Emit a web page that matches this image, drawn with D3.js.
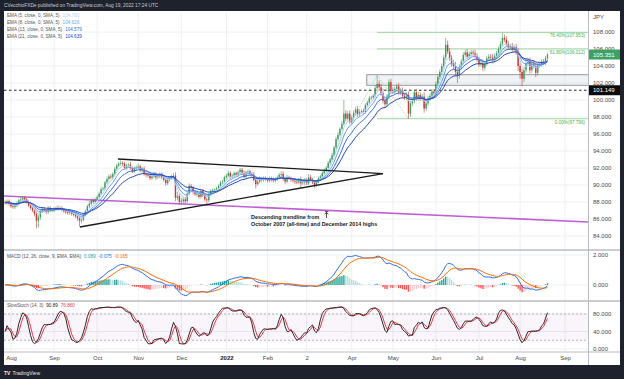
<!DOCTYPE html>
<html>
<head>
<meta charset="utf-8">
<script src="https://cdn.jsdelivr.net/npm/d3@7"></script>
<style>
  body { margin: 0; background: #1e222d; }
  svg { display: block; font-family: "Liberation Sans", Arial, sans-serif; }
</style>
</head>
<body>
<svg id="chart" width="624" height="379"></svg>
<script>
// CAD/JPY daily bars, Jul 28 2021 - Aug 19 2022
const startDate = new Date(2021, 6, 28);
const firstOpen = 88.0;
const closes = [
  87.9, 88.1, 87.8,
  87.5, 87.4, 87.6, 87.8, 88.2,   // Aug 2
  88.3, 88.5, 88.3, 88.0, 87.6,
  87.3, 87.0, 86.6, 85.8, 86.2,
  86.9, 87.2, 87.0, 86.8, 87.3,
  87.0, 87.0, 87.2, 87.3, 87.2,   // Aug 30
  87.3, 87.1, 86.9, 86.8, 86.7,
  86.8, 86.6, 86.5, 86.3, 86.1,
  85.8, 85.9, 86.5, 86.9, 87.5,
  87.8, 88.2, 88.0, 88.3, 88.6,   // Sep 27
  89.0, 89.5, 89.6, 90.3, 90.7,
  91.0, 90.9, 91.3, 91.9, 92.3,
  92.5, 92.6, 92.5, 92.0, 92.3,
  92.4, 92.0, 91.6, 92.0, 92.1,   // Oct 25
  92.2, 91.7, 91.9, 91.3, 91.2,
  91.1, 90.8, 91.0, 91.3, 90.9,
  91.0, 91.3, 90.9, 90.6, 90.2,
  90.6, 90.8, 91.0, 91.1, 88.5,   // Nov 22
  88.7, 88.0, 88.1, 88.3, 88.1,
  89.0, 89.9, 89.7, 89.2, 88.9,
  88.9, 88.6, 89.3, 88.8, 88.3,
  88.2, 88.9, 89.3, 89.4, 89.5,   // Dec 20
  89.6, 89.9, 90.3, 90.4, 90.9,
  91.1, 91.4, 91.0, 91.1, 91.4,   // Jan 3
  91.2, 91.5, 91.8, 91.4, 91.0,
  91.5, 91.6, 91.3, 91.2, 90.6,
  90.1, 90.4, 90.7, 90.6, 90.8,
  90.7, 90.5, 90.8, 90.6, 90.5,   // Jan 31
  90.7, 90.9, 91.2, 91.3, 90.7,
  90.4, 90.9, 90.8, 90.6, 90.5,
  90.4, 90.3, 90.6, 90.2, 90.3,
  90.5, 90.2, 90.9, 90.6, 90.3,   // Feb 28
  90.0, 90.4, 90.8, 91.0, 91.4,
  91.7, 92.0, 92.6, 93.0, 93.5,
  94.4, 95.4, 95.9, 96.6, 97.2,
  98.4, 97.8, 98.4, 97.4, 97.9,   // Mar 28
  98.5, 98.9, 98.3, 98.6, 98.7,
  98.6, 99.4, 99.7, 100.2, 100.3,
  100.5, 101.4, 101.9, 101.5, 100.8,
  99.9, 99.5, 100.4, 102.1, 101.2,   // Apr 25
  101.0, 101.3, 101.6, 100.9, 101.1,
  100.5, 100.3, 100.6, 98.4, 99.6,
  99.9, 100.9, 100.2, 100.6, 100.2,
  100.4, 99.0, 99.6, 100.2, 100.5,   // May 23
  101.0, 100.8, 101.9, 102.7, 103.3,
  104.0, 105.0, 106.5, 105.7, 104.9,
  104.3, 104.0, 103.3, 102.9, 103.9,
  104.5, 105.3, 105.6, 105.1, 105.4,   // Jun 20
  105.6, 105.5, 105.2, 104.8, 104.2,
  104.4, 103.8, 104.3, 104.9, 105.1,
  105.0, 104.7, 105.2, 105.5, 106.0,
  106.6, 107.3, 107.1, 106.6, 106.2,   // Jul 18
  106.3, 105.9, 106.2, 105.6, 104.0,
  103.3, 102.5, 103.5, 104.3, 104.5,
  103.5, 104.3, 104.0, 103.2, 104.1,
  104.2, 104.5, 104.4, 104.9, 105.351  // Aug 15
];
// wick lengths beyond the body, in tenths of a yen
const wickUp = [
  2,2,2, 2,2,2,3,2, 3,2,2,2,2, 2,2,2,3,3, 3,2,2,2,2,
  2,2,2,2,3, 2,2,2,2,2, 3,2,2,2,2, 2,3,2,2,2,
  3,2,2,2,2, 2,3,2,2,3, 2,3,2,2,2, 2,3,2,2,2,
  2,3,2,2,2, 3,2,2,3,2, 2,2,3,2,2, 2,2,2,2,2,
  2,2,2,3,4, 5,3,4,3,3, 2,3,2,2,2, 3,2,2,2,2,
  2,2,2,2,1, 2,2,2,2,2, 2,3,2,2,2, 2,2,2,2,3,
  2,2,2,2,3, 3,3,3,2,2, 2,2,2,2,3, 2,2,2,3,3,
  3,3,2,2,2, 3,3,2,4,3, 3,3,4,3,2, 3,2,2,2,2,
  2,2,2,2,3, 2,3,3,2,3, 16,4,3,4,3, 3,3,4,3,2,
  3,2,2,3,2, 2,3,10,4,4, 5,4,3,3,4, 3,3,3,4,3,
  4,3,3,4,3, 3,3,4,3,3, 3,5,3,3,3, 3,3,3,3,3,
  3,3,8,5,4, 4,4,5,4,3, 3,3,3,4,3, 3,3,4,3,3,
  4,4,3,3,3, 3,4,3,3,3, 3,6,4,4,3, 3,4,3,4,5,
  4,4,4,5,4, 5,3,4,4,3, 3,3,3,3,2
];
const wickDown = [
  2,2,2, 2,2,2,2,2, 2,2,2,2,2, 2,2,3,9,8, 3,2,2,2,2,
  2,2,2,2,2, 2,2,2,2,2, 2,2,2,2,3, 7,3,2,2,2,
  2,2,2,2,2, 2,2,2,2,2, 3,2,2,2,2, 2,2,3,2,2,
  2,2,2,2,3, 2,2,3,2,3, 2,2,2,2,3, 2,2,2,2,3,
  2,2,2,2,4, 3,3,3,3,3, 2,2,2,3,2, 3,2,2,2,2,
  6,2,2,2,2, 2,2,2,2,2, 2,2,3,2,2, 2,2,2,2,2,
  2,2,2,3,2, 5,2,2,2,2, 2,2,2,2,2, 2,2,2,2,2,
  3,2,2,2,2, 3,2,2,6,2, 3,2,2,2,2, 3,2,2,2,2,
  2,2,2,2,2, 2,2,3,2,2, 2,3,2,2,3, 3,2,3,3,2,
  2,2,2,2,2, 2,2,3,3,3, 3,3,3,3,3, 3,3,3,3,3,
  3,3,3,6,4, 3,3,3,3,3, 3,5,3,3,3, 3,3,3,3,3,
  3,3,3,3,3, 4,4,5,9,4, 3,3,3,3,3, 3,3,3,3,3,
  3,4,3,3,3, 3,4,3,4,3, 3,3,3,3,3, 3,3,3,3,6,
  8,9,4,3,3, 4,3,3,5,3, 3,3,3,3,3
];

const monthLabels = ["Aug", "Sep", "Oct", "Nov", "Dec", "2022", "Feb", "2", "Apr", "May", "Jun", "Jul", "Aug", "Sep"];
const priceTicks = [84, 86, 88, 90, 92, 94, 96, 98, 100, 102, 104, 106, 108];
const macdTicks = [0, 2];
const stochTicks = [0, 40, 80];
const emaPeriods = [5, 8, 13, 21];
const emaLegend = ["104.780", "104.626", "104.579", "104.639"];
const macdLegend = ["0.089", "-0.075", "-0.165"];
const stochLegend = ["90.89", "76.860"];
const lastPrice = 105.351;
const markedPrice = 101.149;

// drawings, as [bar position, price]
const purpleTrend = [[-0.6, 88.7], [297.7, 85.65]];
const triUpper = [[57.6, 93.06], [193, 91.35]];
const triLower = [[38.2, 85.06], [193, 91.35]];
const fibPoints = [[158, 89.6], [190, 102.9], [206, 97.796]];
const fibLevels = [{p: 107.953, t: "76.40%(107.953)"}, {p: 106.012, t: "61.80%(106.012)"}, {p: 97.796, t: "0.00%(97.796)"}];
const zoneBox = {from: 184.7, hi: 102.98, lo: 101.73};

// ---------- styles ----------
const emaColors = ["#b6d2f7", "#6ea4f0", "#3a6ee0", "#2448b2"];
const upColor = "#3f9a62", downColor = "#c23b30";
const gridColor = "#eef0f4";
const axisText = "#4a4a4a";

// ---------- layout ----------
const W = 624, H = 379;
const plotL = 4, plotR = 588, axisR = 620;
const mainTop = 12, mainBot = 249;
const macdTop = 251, macdBot = 300;
const stTop = 302, stBot = 351;

const svg = d3.select("#chart");
svg.append("rect").attr("width", W).attr("height", H).attr("fill", "#1e222d");
svg.append("rect").attr("x", plotL).attr("y", 11).attr("width", axisR - plotL).attr("height", 354).attr("fill", "#fff");

// scales
const x = d3.scaleLinear().domain([3, 277]).range([11, 547.5]);
const yP = d3.scaleLinear().domain([84, 108]).range([236, 32]);
const yM = d3.scaleLinear().domain([0, 2]).range([285, 255]);
const yS = d3.scaleLinear().domain([0, 80]).range([349, 314]);

// bars
const bars = closes.map((c, i) => {
  const o = i === 0 ? firstOpen : closes[i - 1];
  return {i, o, c, h: Math.max(o, c) + wickUp[i] / 10, l: Math.min(o, c) - wickDown[i] / 10};
});

// trading days and month ticks
const dates = [];
for (let d = new Date(startDate); dates.length < 300; d.setDate(d.getDate() + 1)) {
  if (d.getDay() !== 0 && d.getDay() !== 6) dates.push(new Date(d));
}
const monthTicks = [];
for (let k = 1; k < dates.length && monthTicks.length < monthLabels.length; k++) {
  if (dates[k].getMonth() !== dates[k - 1].getMonth()) monthTicks.push(k);
}

// indicators
function ema(arr, n) {
  const a = 2 / (n + 1), out = [];
  arr.forEach((v, i) => out.push(i === 0 ? v : a * v + (1 - a) * out[i - 1]));
  return out;
}
function sma(arr, n) {
  return arr.map((v, i) => d3.mean(arr.slice(Math.max(0, i - n + 1), i + 1)));
}
const emas = emaPeriods.map(n => ema(closes, n));
const e12 = ema(closes, 12), e26 = ema(closes, 26);
const macd = e12.map((v, i) => v - e26[i]);
const signal = ema(macd, 9);
const hist = macd.map((v, i) => v - signal[i]);
const rawK = bars.map((b, i) => {
  const win = bars.slice(Math.max(0, i - 13), i + 1);
  const hh = d3.max(win, w => w.h), ll = d3.min(win, w => w.l);
  return 100 * (b.c - ll) / (hh - ll);
});
const stochK = sma(rawK, 3);
const stochD = sma(stochK, 3);

// clip paths
const defs = svg.append("defs");
[["clipMain", mainTop, mainBot], ["clipMacd", macdTop, macdBot], ["clipSt", stTop, stBot]].forEach(([id, t, b]) => {
  defs.append("clipPath").attr("id", id).append("rect")
    .attr("x", plotL).attr("y", t).attr("width", plotR - plotL).attr("height", b - t);
});

// grid
const grid = svg.append("g");
monthTicks.forEach(k => {
  grid.append("line").attr("x1", x(k)).attr("x2", x(k)).attr("y1", mainTop).attr("y2", stBot)
    .attr("stroke", gridColor).attr("stroke-width", 1);
});
priceTicks.forEach(p => {
  grid.append("line").attr("x1", plotL).attr("x2", plotR).attr("y1", yP(p)).attr("y2", yP(p))
    .attr("stroke", gridColor);
});
macdTicks.forEach(v => {
  grid.append("line").attr("x1", plotL).attr("x2", plotR).attr("y1", yM(v)).attr("y2", yM(v)).attr("stroke", gridColor);
});
stochTicks.forEach(v => {
  grid.append("line").attr("x1", plotL).attr("x2", plotR).attr("y1", yS(v)).attr("y2", yS(v)).attr("stroke", gridColor);
});

// ---------- main pane ----------
const main = svg.append("g").attr("clip-path", "url(#clipMain)");
const lineOf = pts => d3.line().x(d => x(d[0])).y(d => yP(d[1]))(pts);

// support zone box
main.append("rect").attr("x", x(zoneBox.from)).attr("y", yP(zoneBox.hi))
  .attr("width", plotR - x(zoneBox.from) + 2).attr("height", yP(zoneBox.lo) - yP(zoneBox.hi))
  .attr("fill", "rgba(190,194,204,0.22)").attr("stroke", "#9598a1").attr("stroke-width", 1);

// fib extension
fibLevels.forEach(f => {
  main.append("line").attr("x1", x(fibPoints[1][0])).attr("x2", plotR).attr("y1", yP(f.p)).attr("y2", yP(f.p))
    .attr("stroke", "#9fd5a2").attr("stroke-width", 1);
});
main.append("path").attr("d", lineOf(fibPoints)).attr("fill", "none")
  .attr("stroke", "#8fcf92").attr("stroke-width", 0.8).attr("stroke-dasharray", "1.5,1.5");

// purple long-term trendline
main.append("path").attr("d", lineOf(purpleTrend)).attr("stroke", "#bf5fd6").attr("stroke-width", 1.6).attr("fill", "none");

// dashed marked level
main.append("line").attr("x1", plotL).attr("x2", plotR).attr("y1", yP(markedPrice)).attr("y2", yP(markedPrice))
  .attr("stroke", "#222").attr("stroke-width", 1).attr("stroke-dasharray", "2.5,2.5");

// candles
main.selectAll(".wick").data(bars).join("line")
  .attr("x1", d => x(d.i)).attr("x2", d => x(d.i)).attr("y1", d => yP(d.h)).attr("y2", d => yP(d.l))
  .attr("stroke", d => d.c >= d.o ? upColor : downColor).attr("stroke-width", 0.6);
main.selectAll(".body").data(bars).join("rect")
  .attr("x", d => x(d.i) - 0.7).attr("width", 1.4)
  .attr("y", d => yP(Math.max(d.o, d.c)))
  .attr("height", d => Math.max(0.6, Math.abs(yP(d.o) - yP(d.c))))
  .attr("fill", d => d.c >= d.o ? upColor : downColor);

// EMA ribbon
emas.forEach((s, j) => {
  main.append("path").datum(s).attr("fill", "none").attr("stroke", emaColors[j]).attr("stroke-width", 1)
    .attr("d", d3.line().x((d, i) => x(i)).y(d => yP(d)));
});

// triangle
[triUpper, triLower].forEach(t => {
  main.append("path").attr("d", lineOf(t)).attr("stroke", "#1a1a1a").attr("stroke-width", 1.3).attr("fill", "none");
});

// fib labels
fibLevels.forEach(f => {
  main.append("text").attr("x", 585).attr("y", yP(f.p) + 5).attr("text-anchor", "end")
    .attr("font-size", 4.6).attr("fill", "#4caf50").text(f.t);
});

// annotation
const note = svg.append("g").attr("font-size", 5.4).attr("font-weight", "bold").attr("fill", "#222");
note.append("text").attr("x", 251).attr("y", 219).text("Descending trendline from");
note.append("text").attr("x", 251).attr("y", 225.5).text("October 2007 (all-time) and December 2014 highs");
note.append("path").attr("d", "M326.5,218 V212.5 M324.6,214.4 L326.5,212.3 L328.4,214.4 M324.8,211.6 H328.2")
  .attr("stroke", "#222").attr("stroke-width", 0.8).attr("fill", "none");

// ---------- MACD pane ----------
const mg = svg.append("g").attr("clip-path", "url(#clipMacd)");
mg.selectAll("rect").data(hist).join("rect")
  .attr("x", (d, i) => x(i) - 0.7).attr("width", 1.4)
  .attr("y", d => Math.min(yM(0), yM(d))).attr("height", d => Math.abs(yM(d) - yM(0)))
  .attr("fill", (d, i) => {
    const prev = i > 0 ? hist[i - 1] : d;
    if (d >= 0) return d >= prev ? "#26a69a" : "#b2dfdb";
    return d < prev ? "#ff5252" : "#ffcdd2";
  });
mg.append("path").datum(macd).attr("fill", "none").attr("stroke", "#2f6ff0").attr("stroke-width", 1)
  .attr("d", d3.line().x((d, i) => x(i)).y(d => yM(d)));
mg.append("path").datum(signal).attr("fill", "none").attr("stroke", "#ff6d00").attr("stroke-width", 1)
  .attr("d", d3.line().x((d, i) => x(i)).y(d => yM(d)));

// ---------- Stoch pane ----------
const sg = svg.append("g").attr("clip-path", "url(#clipSt)");
sg.append("rect").attr("x", plotL).attr("width", plotR - plotL).attr("y", yS(80)).attr("height", yS(20) - yS(80))
  .attr("fill", "rgba(156,39,176,0.05)");
[80, 20].forEach(v => {
  sg.append("line").attr("x1", plotL).attr("x2", plotR).attr("y1", yS(v)).attr("y2", yS(v))
    .attr("stroke", "#9a9a9a").attr("stroke-width", 0.7).attr("stroke-dasharray", "2,2");
});
sg.append("path").datum(stochD).attr("fill", "none").attr("stroke", "#f23645").attr("stroke-width", 1)
  .attr("d", d3.line().x((d, i) => x(i)).y(d => yS(d)));
sg.append("path").datum(stochK).attr("fill", "none").attr("stroke", "#2a2a2a").attr("stroke-width", 1)
  .attr("d", d3.line().x((d, i) => x(i)).y(d => yS(d)));

// ---------- separators ----------
const sep = svg.append("g").attr("stroke", "#b8bbc2");
sep.append("line").attr("x1", plotL).attr("x2", axisR).attr("y1", 250).attr("y2", 250).attr("stroke-width", 1.6);
sep.append("line").attr("x1", plotL).attr("x2", axisR).attr("y1", 301).attr("y2", 301).attr("stroke-width", 1.6);
sep.append("line").attr("x1", plotL).attr("x2", axisR).attr("y1", 352).attr("y2", 352).attr("stroke-width", 1);
sep.append("line").attr("x1", plotR + 0.5).attr("x2", plotR + 0.5).attr("y1", 11).attr("y2", 365).attr("stroke-width", 1);

// ---------- axes ----------
function styleAxis(g) {
  g.select(".domain").remove();
  g.selectAll("text").attr("font-size", 6).attr("fill", axisText).attr("font-family", "Liberation Sans, Arial, sans-serif");
}
svg.append("g").attr("transform", "translate(593,0)")
  .call(d3.axisRight(yP).tickValues(priceTicks).tickSize(0).tickPadding(0).tickFormat(d3.format(".3f"))).call(styleAxis);
svg.append("g").attr("transform", "translate(593,0)")
  .call(d3.axisRight(yM).tickValues(macdTicks).tickSize(0).tickPadding(0).tickFormat(d3.format(".3f"))).call(styleAxis);
svg.append("g").attr("transform", "translate(593,0)")
  .call(d3.axisRight(yS).tickValues(stochTicks).tickSize(0).tickPadding(0).tickFormat(d3.format(".3f"))).call(styleAxis);
const tAxis = svg.append("g").attr("transform", "translate(0,356)")
  .call(d3.axisBottom(x).tickValues(monthTicks).tickSize(0).tickPadding(0).tickFormat((d, i) => monthLabels[i]))
  .call(styleAxis);
tAxis.selectAll("text").attr("font-weight", (d, i) => monthLabels[i] === "2022" ? "bold" : "normal")
  .attr("fill", (d, i) => monthLabels[i] === "2022" ? "#222" : axisText);

svg.append("text").attr("x", 593).attr("y", 19).attr("font-size", 6).attr("fill", axisText).text("JPY");

// price boxes
function priceBox(p, bg, label) {
  const yy = yP(p);
  svg.append("rect").attr("x", plotR + 1).attr("y", yy - 5).attr("width", axisR - plotR - 1).attr("height", 10).attr("fill", bg);
  svg.append("text").attr("x", 593).attr("y", yy + 2.1).attr("font-size", 6).attr("fill", "#fff").text(label);
}
priceBox(lastPrice, "#3fa062", "105.351");
priceBox(markedPrice, "#0c0c0c", "101.149");

// ---------- legends ----------
function legend(yy, label, values, colors) {
  const g = svg.append("g").attr("font-size", 4.6);
  const t = g.append("text").attr("x", 7).attr("y", yy).attr("fill", "#555").text(label);
  let xx = 7 + t.node().getComputedTextLength() + 3;
  values.forEach((v, j) => {
    const vt = g.append("text").attr("x", xx).attr("y", yy).attr("fill", colors[j]).text(v);
    xx += vt.node().getComputedTextLength() + 3;
  });
}
legend(17.3, "EMA (5, close, 0, SMA, 5)", [emaLegend[0]], [emaColors[0]]);
legend(24.4, "EMA (8, close, 0, SMA, 5)", [emaLegend[1]], [emaColors[1]]);
legend(31.3, "EMA (13, close, 0, SMA, 5)", [emaLegend[2]], [emaColors[2]]);
legend(38.2, "EMA (21, close, 0, SMA, 5)", [emaLegend[3]], [emaColors[3]]);
legend(257.8, "MACD (12, 26, close, 9, EMA, EMA)", macdLegend, ["#26a69a", "#2f6ff0", "#ff6d00"]);
legend(307.4, "SlowStoch (14, 3)", stochLegend, ["#222", "#f23645"]);

// ---------- header / footer ----------
svg.append("text").attr("x", 4).attr("y", 7.4).attr("font-size", 4.8).attr("fill", "#c9ccd4")
  .text("CVecchioFXDe published on TradingView.com, Aug 19, 2022 17:24 UTC");
svg.append("text").attr("x", 4).attr("y", 374.5).attr("font-size", 5).attr("font-weight", "bold").attr("fill", "#e6e8ee").text("TV");
svg.append("text").attr("x", 12.5).attr("y", 374.5).attr("font-size", 5).attr("fill", "#e6e8ee").text("TradingView");
</script>
</body>
</html>
